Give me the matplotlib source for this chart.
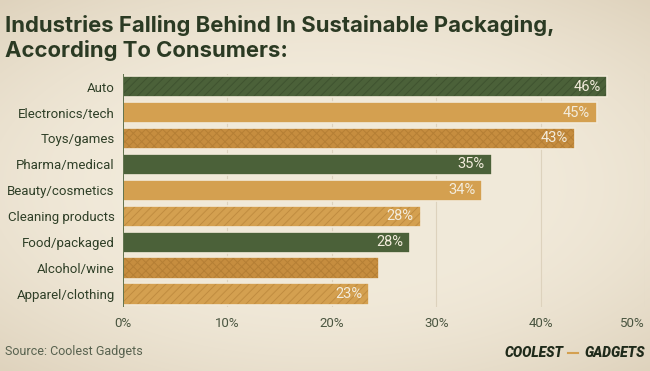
import numpy as np
import matplotlib.pyplot as plt

# data
categories = ['Auto', 'Electronics/tech', 'Toys/games', 'Pharma/medical', 'Beauty/cosmetics',
              'Cleaning products', 'Food/packaged', 'Alcohol/wine', 'Apparel/clothing']
values = [46.4, 45.4, 43.3, 35.3, 34.4, 28.5, 27.5, 24.5, 23.6]
value_labels = ['46%', '45%', '43%', '35%', '34%', '28%', '28%', '', '23%']
xticks = [0, 10, 20, 30, 40, 50]

GREEN = '#4b6139'
GOLD = '#d4a050'
GOLD_DARK = '#c68d3f'
CREAM = '#f2ead9'
TEXT = '#2f3f27'

styles = [
    (GREEN, '////', '#3f5330'),
    (GOLD, '', None),
    (GOLD_DARK, 'xxxx', '#b57f35'),
    (GREEN, '', None),
    (GOLD, '', None),
    (GOLD, '////', '#c08c40'),
    (GREEN, '', None),
    (GOLD_DARK, 'xxxx', '#b57f35'),
    (GOLD, '////', '#c08c40'),
]

plt.rcParams['font.family'] = ['Roboto', 'DejaVu Sans']
plt.rcParams['hatch.linewidth'] = 0.7

fig = plt.figure(figsize=(6.5, 3.71), dpi=100)

# paper background with a soft vignette
bg = fig.add_axes([0, 0, 1, 1], zorder=-10)
yy, xx = np.mgrid[-1:1:200j, -1:1:350j]
r = np.sqrt((xx * 0.9) ** 2 + (yy * 1.0) ** 2)
shade = np.clip((r - 0.55) / 0.9, 0, 1) ** 1.5
base = np.array([0.945, 0.915, 0.852])
edge = np.array([0.86, 0.81, 0.72])
img = base[None, None, :] * (1 - shade[..., None]) + edge[None, None, :] * shade[..., None]
bg.imshow(img, aspect='auto', extent=[0, 1, 0, 1], interpolation='bilinear')
bg.set_axis_off()

ax = fig.add_axes([123 / 650, 0.1725, (645 - 123) / 650, 0.8014 - 0.1725])
ax.patch.set_alpha(0)

y = np.arange(len(categories))
for i, (v, (fc, hatch, hc)) in enumerate(zip(values, styles)):
    if hatch:
        ax.barh(y[i], v, height=0.82, color=fc, edgecolor=hc, hatch=hatch, linewidth=0, zorder=3)
    else:
        ax.barh(y[i], v, height=0.82, color=fc, linewidth=0, zorder=3)
    ax.barh(y[i], v, height=0.82, fill=False, edgecolor=CREAM, linewidth=1.2, zorder=4)
    if value_labels[i]:
        ax.text(v - 0.65, y[i], value_labels[i], ha='right', va='center',
                color='#f3ecdc', fontsize=10.5, zorder=5)

ax.set_xlim(0, 50)
ax.set_ylim(len(categories) - 0.5, -0.5)
ax.set_yticks(y)
ax.set_yticklabels(categories, fontsize=9.5, color=TEXT)
ax.set_xticks(xticks)
ax.set_xticklabels([f'{t}%' for t in xticks], fontsize=9.5, color='#4a5540')
ax.get_xticklabels()[-1].set_ha('right')
ax.tick_params(axis='both', length=0)
ax.tick_params(axis='y', pad=6)
ax.tick_params(axis='x', pad=7)
for s in ax.spines.values():
    s.set_visible(False)
ax.axvline(0, color=GREEN, linewidth=1.2, zorder=5)
ax.grid(axis='x', color='#ddd2bd', linewidth=0.8, zorder=0)
ax.set_axisbelow(True)

title_font = ['Inter', 'DejaVu Sans']
fig.text(5 / 650, 1 - 32 / 371, 'Industries Falling Behind In Sustainable Packaging,',
         fontsize=15.9, fontweight='bold', color='#2b3a23', ha='left', va='baseline', family=title_font)
fig.text(5 / 650, 1 - 57 / 371, 'According To Consumers:',
         fontsize=15.9, fontweight='bold', color='#2b3a23', ha='left', va='baseline', family=title_font)

fig.text(5 / 650, 1 - 352 / 371, 'Source: Coolest Gadgets', fontsize=9, color='#58624f',
         ha='left', va='center')

fig.text(505 / 650, 1 - 353 / 371, 'COOLEST', fontsize=10, fontweight='heavy', style='italic',
         color='#1f2a1a', ha='left', va='center')
fig.text(645 / 650, 1 - 353 / 371, 'GADGETS', fontsize=10, fontweight='heavy', style='italic',
         color='#1f2a1a', ha='right', va='center')
fig.lines.append(plt.Line2D([568 / 650, 578 / 650], [1 - 353 / 371] * 2, transform=fig.transFigure,
                            color='#d4a050', linewidth=1.5))

fig.savefig('out.png', dpi=100)
